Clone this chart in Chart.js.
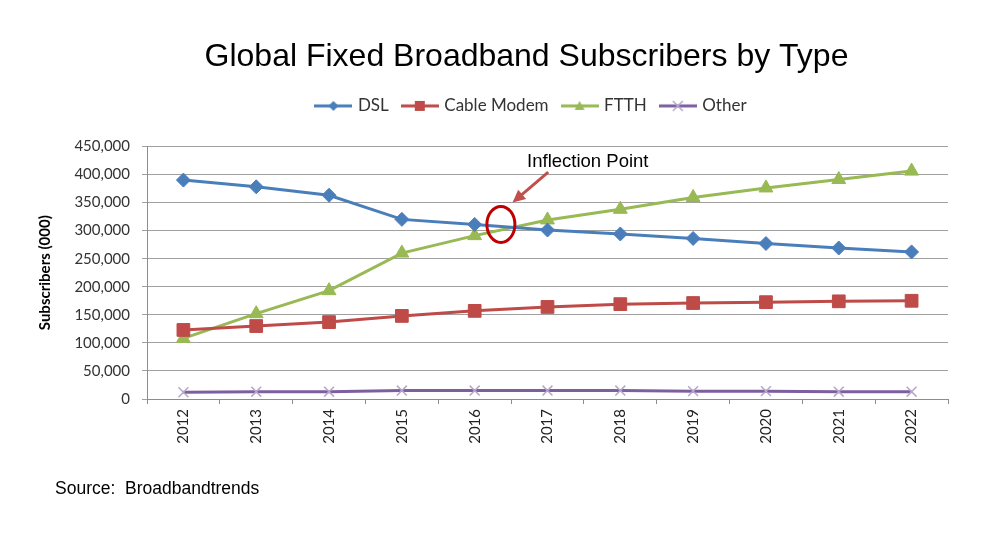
<!DOCTYPE html>
<html>
<head>
<meta charset="utf-8">
<script src="https://cdn.jsdelivr.net/npm/chart.js@4.4.1/dist/chart.umd.min.js"></script>
<style>
    html, body { margin:0; padding:0; background:#fff; }
    .wrap { width:999px; height:536px; }
</style>
</head>
<body>
<div class="wrap"><canvas id="chart" width="999" height="536"></canvas></div>
<script>
// data
const years = ['2012', '2013', '2014', '2015', '2016', '2017', '2018', '2019', '2020', '2021', '2022'];
const dsl   = [390000, 378000, 363000, 320000, 311000, 301000, 294000, 286000, 277000, 269000, 262000];
const cable = [123000, 130000, 137000, 148000, 157000, 164000, 169000, 171000, 172500, 174000, 175000];
const ftth  = [108000, 152000, 193000, 260000, 291000, 319000, 338000, 359000, 376000, 391000, 406000];
const other = [12000, 13000, 13000, 15000, 15000, 15000, 15000, 14000, 14000, 13000, 13000];
const yMin = 0, yMax = 450000, yStep = 50000;

const series = [
    { name:'DSL',         data:dsl,   color:'#4a7ebb', marker:'#4a7ebb', style:'rectRot',  radius:7 },
    { name:'Cable Modem', data:cable, color:'#be4b48', marker:'#be4b48', style:'rect',     radius:9 },
    { name:'FTTH',        data:ftth,  color:'#98b954', marker:'#98b954', style:'triangle', radius:8 },
    { name:'Other',       data:other, color:'#7d5fa0', marker:'#b4a7c9', style:'crossRot', radius:7 },
];

// legend icon : line + marker
function legendIcon(s){
    const c = document.createElement('canvas');
    c.width = 38; c.height = 16;
    const ctx = c.getContext('2d');
    const m = 19;
    ctx.strokeStyle = s.color; ctx.lineWidth = 3;
    ctx.beginPath(); ctx.moveTo(0, 8); ctx.lineTo(38, 8); ctx.stroke();
    ctx.fillStyle = s.marker; ctx.strokeStyle = s.marker; ctx.lineWidth = 1.5;
    ctx.beginPath();
    if(s.style == 'rectRot'){
        ctx.moveTo(m, 3); ctx.lineTo(m + 5, 8); ctx.lineTo(m, 13); ctx.lineTo(m - 5, 8); ctx.closePath(); ctx.fill();
    }else if(s.style == 'rect'){
        ctx.fillRect(m - 5, 3, 10, 10);
    }else if(s.style == 'triangle'){
        ctx.moveTo(m, 3); ctx.lineTo(m + 5, 12); ctx.lineTo(m - 5, 12); ctx.closePath(); ctx.fill();
    }else{
        ctx.moveTo(m - 5, 3); ctx.lineTo(m + 5, 13); ctx.moveTo(m + 5, 3); ctx.lineTo(m - 5, 13); ctx.stroke();
    }
    return c;
}
const icons = series.map(legendIcon);

// annotation + source text
const extras = {
    id:'extras',
    afterInit(chart){
        const fit = chart.legend.fit;
        chart.legend.fit = function(){
            fit.call(this);
            this.height += 22;
        };
    },
    afterLayout(chart){
        chart.titleBlock.left = 105;
        chart.legend.left = 116;
    },
    afterDraw(chart){
        const ctx = chart.ctx;
        const x = chart.scales.x, y = chart.scales.y;
        ctx.save();
        // circle
        const cx = x.getPixelForValue(4.36), cy = y.getPixelForValue(311000);
        ctx.strokeStyle = '#c00000'; ctx.lineWidth = 3;
        ctx.beginPath(); ctx.ellipse(cx, cy, 14, 18, 0, 0, Math.PI * 2); ctx.stroke();
        // arrow
        const x1 = x.getPixelForValue(5.01), y1 = y.getPixelForValue(404000);
        const x2 = x.getPixelForValue(4.52), y2 = y.getPixelForValue(350000);
        const ang = Math.atan2(y2 - y1, x2 - x1);
        ctx.strokeStyle = '#c0504d'; ctx.fillStyle = '#c0504d'; ctx.lineWidth = 3;
        ctx.beginPath(); ctx.moveTo(x1, y1);
        ctx.lineTo(x2 - Math.cos(ang) * 8, y2 - Math.sin(ang) * 8); ctx.stroke();
        ctx.beginPath(); ctx.moveTo(x2, y2);
        ctx.lineTo(x2 - Math.cos(ang - 0.45) * 14, y2 - Math.sin(ang - 0.45) * 14);
        ctx.lineTo(x2 - Math.cos(ang + 0.45) * 14, y2 - Math.sin(ang + 0.45) * 14);
        ctx.closePath(); ctx.fill();
        // label
        ctx.fillStyle = '#000';
        ctx.font = '18.5px "Liberation Sans", Arial, sans-serif';
        ctx.textBaseline = 'middle';
        ctx.fillText('Inflection Point', x.getPixelForValue(4.72), y.getPixelForValue(423000));
        // source
        ctx.font = '17.5px "Liberation Sans", Arial, sans-serif';
        ctx.textBaseline = 'alphabetic';
        ctx.fillText('Source:  Broadbandtrends', 55, 494);
        ctx.restore();
    }
};

const chart = new Chart(document.getElementById('chart'), {
    type:'line',
    data:{
        labels:years,
        datasets:series.map(s => ({
            label:s.name,
            data:s.data,
            borderColor:s.color,
            backgroundColor:s.marker,
            borderWidth:3,
            pointStyle:s.style,
            pointRadius:s.radius,
            pointHoverRadius:s.radius,
            pointBackgroundColor:s.marker,
            pointBorderColor:s.marker,
            pointBorderWidth:s.style == 'crossRot' ? 1.5 : 1,
            tension:0,
            fill:false,
        }))
    },
    options:{
        responsive:false,
        animation:false,
        layout:{ padding:{ left:0, right:51, top:0, bottom:0 } },
        plugins:{
            title:{
                display:true,
                text:'Global Fixed Broadband Subscribers by Type',
                color:'#000',
                font:{ family:'"Liberation Sans", Arial, sans-serif', size:32, weight:'normal', lineHeight:1.2 },
                padding:{ top:38, bottom:6 },
            },
            legend:{
                display:true,
                labels:{
                    usePointStyle:true,
                    pointStyleWidth:32,
                    boxHeight:16,
                    padding:15,
                    color:'#333',
                    font:{ family:'Lato, sans-serif', size:17 },
                    generateLabels(chart){
                        const items = Chart.defaults.plugins.legend.labels.generateLabels(chart);
                        items.forEach((it, i) => { it.pointStyle = icons[i]; });
                        return items;
                    }
                }
            },
            tooltip:{ enabled:false },
        },
        scales:{
            x:{
                offset:true,
                afterFit(s){ s.height = 137; },
                grid:{ display:true, drawOnChartArea:false, offset:true, tickLength:5, color:'#8c8c8c' },
                border:{ color:'#8c8c8c' },
                ticks:{
                    minRotation:90, maxRotation:90, padding:5, color:'#222',
                    font:{ family:'Lato, sans-serif', size:15 }
                }
            },
            y:{
                min:yMin, max:yMax,
                afterFit(s){ s.width = 147; },
                grid:{ color:'#a0a0a0', tickLength:5, lineWidth:1 },
                border:{ color:'#8c8c8c' },
                ticks:{
                    stepSize:yStep, padding:12, color:'#333',
                    font:{ family:'Lato, sans-serif', size:15 },
                    callback:v => v.toLocaleString('en-US')
                },
                title:{
                    display:true, text:'Subscribers (000)', color:'#000',
                    font:{ family:'Lato, sans-serif', size:15, weight:'bold', lineHeight:1.2 },
                    padding:{ top:36, bottom:0 }
                }
            }
        }
    },
    plugins:[extras]
});
</script>
</body>
</html>
